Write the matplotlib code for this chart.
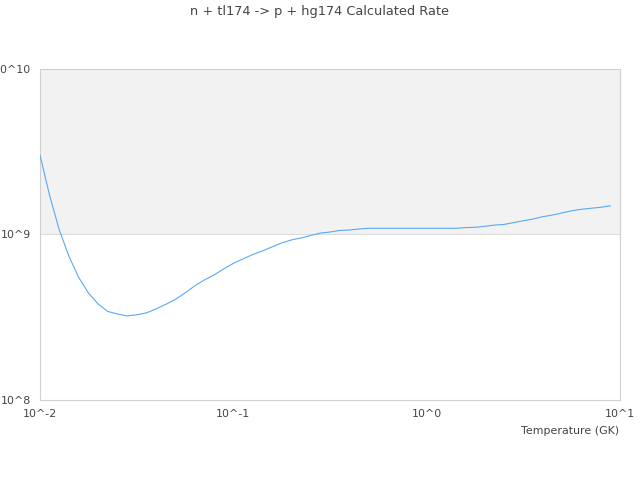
import numpy as np
import matplotlib
matplotlib.use('Agg')
import matplotlib.pyplot as plt

# temperature grid (GK) and rate
temperature = [0.01, 0.0112, 0.0126, 0.0141, 0.0158, 0.0178, 0.02, 0.0224, 0.0251, 0.0282,
               0.0316, 0.0355, 0.0398, 0.0447, 0.0501, 0.0562, 0.0631, 0.0708, 0.0794, 0.0891,
               0.1, 0.112, 0.126, 0.141, 0.158, 0.178, 0.2, 0.224, 0.251, 0.282,
               0.316, 0.355, 0.398, 0.447, 0.501, 0.562, 0.631, 0.708, 0.794, 0.891,
               1.0, 1.12, 1.26, 1.41, 1.58, 1.78, 2.0, 2.24, 2.51, 2.82,
               3.16, 3.55, 3.98, 4.47, 5.01, 5.62, 6.31, 7.08, 7.94, 8.91]
rate = [3.02e9, 1.73e9, 1.06e9, 7.41e8, 5.54e8, 4.43e8, 3.80e8, 3.43e8, 3.31e8, 3.22e8,
        3.27e8, 3.36e8, 3.55e8, 3.78e8, 4.05e8, 4.43e8, 4.89e8, 5.31e8, 5.69e8, 6.19e8,
        6.69e8, 7.11e8, 7.57e8, 7.94e8, 8.40e8, 8.89e8, 9.27e8, 9.53e8, 9.86e8, 1.02e9,
        1.035e9, 1.057e9, 1.064e9, 1.08e9, 1.09e9, 1.09e9, 1.09e9, 1.09e9, 1.09e9, 1.09e9,
        1.09e9, 1.09e9, 1.09e9, 1.09e9, 1.10e9, 1.105e9, 1.12e9, 1.14e9, 1.15e9, 1.18e9,
        1.21e9, 1.24e9, 1.28e9, 1.31e9, 1.35e9, 1.39e9, 1.42e9, 1.44e9, 1.46e9, 1.49e9]

x_ticks = [0.01, 0.1, 1, 10]
x_labels = ['10^-2', '10^-1', '10^0', '10^1']
y_ticks = [1e8, 1e9, 1e10]
y_labels = ['10^8', '10^9', '10^10']

title = 'n + tl174 -> p + hg174 Calculated Rate'
text_color = '#444444'

fig = plt.figure(figsize=(6.4, 4.8), dpi=100, facecolor='white')
ax = fig.add_axes([0.0625, 0.1667, 0.90625, 0.6896])

ax.set_xscale('log')
ax.set_yscale('log')
ax.set_xlim(0.01, 10)
ax.set_ylim(1e8, 1e10)

# alternating band + gridline
ax.axhspan(1e9, 1e10, color='#f2f2f2', zorder=0, lw=0)
ax.axhline(1e9, color='#dddddd', lw=0.8, zorder=1)

ax.plot(temperature, rate, color='#5aa9f5', lw=0.8, zorder=3)

ax.set_xticks(x_ticks)
ax.set_xticklabels(x_labels)
ax.set_yticks(y_ticks)
ax.set_yticklabels(y_labels)
ax.minorticks_off()
ax.tick_params(length=0, labelsize=7.9, colors=text_color)
ax.tick_params(axis='x', pad=6.5)
ax.tick_params(axis='y', pad=6.5)

for s in ax.spines.values():
    s.set_color('#d0d0d0')
    s.set_linewidth(0.8)

ax.set_xlabel('Temperature (GK)', fontsize=7.9, color=text_color, loc='right')
ax.xaxis.set_label_coords(0.9985, -0.078)

fig.text(0.5, 0.975, title, ha='center', va='center', fontsize=9.3, color=text_color)

fig.savefig('out.png', dpi=100)
